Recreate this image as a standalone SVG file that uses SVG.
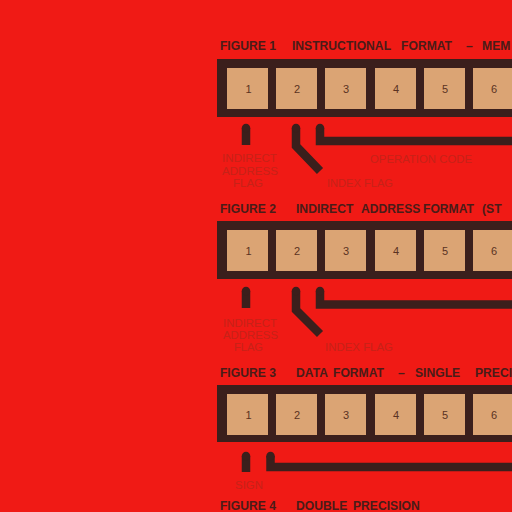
<svg xmlns="http://www.w3.org/2000/svg" width="512" height="512" viewBox="0 0 512 512">
<style>
.title{font-family:"Liberation Sans",Arial,sans-serif;font-weight:bold;font-size:13.5px;fill:#4a1c18}
.num{font-family:"Liberation Sans",Arial,sans-serif;font-size:11px;fill:#5a3222;text-anchor:middle}
.lbl{font-family:"Liberation Sans",Arial,sans-serif;font-size:10.5px;fill:#c62218}
.bar{fill:#3b1f1c}
.cell{fill:#dba474}
.ptr{fill:none;stroke:#3b1f1c;stroke-width:8.5;stroke-linejoin:miter}
.tip{fill:#3b1f1c}
</style>
<rect width="512" height="512" fill="#f01a15"/>

<g id="figure1">
<text class="title" transform="scale(0.9,1)" y="50.5"><tspan x="244.4">FIGURE 1</tspan><tspan x="324.4">INSTRUCTIONAL</tspan><tspan x="445.6">FORMAT</tspan><tspan x="517.8">–</tspan><tspan x="535.6">MEM</tspan></text>
<rect class="bar" x="217" y="59" width="300" height="58"/>
<g id="f1-cells">
<rect class="cell" x="227" y="68" width="41" height="41"/>
<rect class="cell" x="276" y="68" width="41" height="41"/>
<rect class="cell" x="325" y="68" width="41" height="41"/>
<rect class="cell" x="375" y="68" width="41" height="41"/>
<rect class="cell" x="424" y="68" width="41" height="41"/>
<rect class="cell" x="473" y="68" width="41" height="41"/>
<text class="num" x="248.5" y="93">1</text>
<text class="num" x="297" y="93">2</text>
<text class="num" x="346" y="93">3</text>
<text class="num" x="396" y="93">4</text>
<text class="num" x="445" y="93">5</text>
<text class="num" x="494" y="93">6</text>
</g>
<text class="lbl" x="222" y="162" textLength="55" lengthAdjust="spacingAndGlyphs">INDIRECT</text>
<text class="lbl" x="222" y="175" textLength="56" lengthAdjust="spacingAndGlyphs">ADDRESS</text>
<text class="lbl" x="233" y="187" textLength="30" lengthAdjust="spacingAndGlyphs">FLAG</text>
<text class="lbl" x="327" y="187" textLength="66" lengthAdjust="spacingAndGlyphs">INDEX FLAG</text>
<text class="lbl" x="370" y="163" textLength="102" lengthAdjust="spacingAndGlyphs">OPERATION CODE</text>
</g>

<g id="figure2">
<text class="title" transform="scale(0.9,1)" y="213.5"><tspan x="244.4">FIGURE 2</tspan><tspan x="328.9">INDIRECT</tspan><tspan x="401.1">ADDRESS</tspan><tspan x="470">FORMAT</tspan><tspan x="535.6">(ST</tspan></text>
<rect class="bar" x="217" y="221" width="300" height="58"/>
<g id="f2-cells">
<rect class="cell" x="227" y="230" width="41" height="41"/>
<rect class="cell" x="276" y="230" width="41" height="41"/>
<rect class="cell" x="325" y="230" width="41" height="41"/>
<rect class="cell" x="375" y="230" width="41" height="41"/>
<rect class="cell" x="424" y="230" width="41" height="41"/>
<rect class="cell" x="473" y="230" width="41" height="41"/>
<text class="num" x="248.5" y="255">1</text>
<text class="num" x="297" y="255">2</text>
<text class="num" x="346" y="255">3</text>
<text class="num" x="396" y="255">4</text>
<text class="num" x="445" y="255">5</text>
<text class="num" x="494" y="255">6</text>
</g>
<text class="lbl" x="223" y="327" textLength="54" lengthAdjust="spacingAndGlyphs">INDIRECT</text>
<text class="lbl" x="223" y="339" textLength="55" lengthAdjust="spacingAndGlyphs">ADDRESS</text>
<text class="lbl" x="234" y="351" textLength="29" lengthAdjust="spacingAndGlyphs">FLAG</text>
<text class="lbl" x="325" y="351" textLength="68" lengthAdjust="spacingAndGlyphs">INDEX FLAG</text>
</g>

<g id="figure3">
<text class="title" transform="scale(0.9,1)" y="377"><tspan x="244.4">FIGURE 3</tspan><tspan x="328.9">DATA</tspan><tspan x="370">FORMAT</tspan><tspan x="442.2">–</tspan><tspan x="461.1">SINGLE</tspan><tspan x="527.8">PRECIS</tspan></text>
<rect class="bar" x="217" y="385" width="300" height="57"/>
<g id="f3-cells">
<rect class="cell" x="227" y="394" width="41" height="41"/>
<rect class="cell" x="276" y="394" width="41" height="41"/>
<rect class="cell" x="325" y="394" width="41" height="41"/>
<rect class="cell" x="375" y="394" width="41" height="41"/>
<rect class="cell" x="424" y="394" width="41" height="41"/>
<rect class="cell" x="473" y="394" width="41" height="41"/>
<text class="num" x="248.5" y="419">1</text>
<text class="num" x="297" y="419">2</text>
<text class="num" x="346" y="419">3</text>
<text class="num" x="396" y="419">4</text>
<text class="num" x="445" y="419">5</text>
<text class="num" x="494" y="419">6</text>
</g>
<text class="lbl" x="235" y="489" textLength="28" lengthAdjust="spacingAndGlyphs">SIGN</text>
</g>

<g id="figure4">
<text class="title" transform="scale(0.9,1)" y="510.5"><tspan x="244.4">FIGURE 4</tspan><tspan x="328.9">DOUBLE</tspan><tspan x="392.2">PRECISION</tspan></text>
</g>

<g id="connectors">
<path class="ptr" d="M246,128 V145"/>
<circle class="tip" cx="246" cy="128" r="4.25"/>
<path class="ptr" d="M296,128 V146 L320,171"/>
<circle class="tip" cx="296" cy="128" r="4.25"/>
<path class="ptr" d="M320,128 V141 H520"/>
<circle class="tip" cx="320" cy="128" r="4.25"/>
<path class="ptr" d="M246,291 V308"/>
<circle class="tip" cx="246" cy="291" r="4.25"/>
<path class="ptr" d="M296,291 V310 L320,334"/>
<circle class="tip" cx="296" cy="291" r="4.25"/>
<path class="ptr" d="M320,291 V304.5 H520"/>
<circle class="tip" cx="320" cy="291" r="4.25"/>
<path class="ptr" d="M246,456 V472"/>
<circle class="tip" cx="246" cy="456" r="4.25"/>
<path class="ptr" d="M270.5,456 V467 H520"/>
<circle class="tip" cx="270.5" cy="456" r="4.25"/>
</g>
</svg>
